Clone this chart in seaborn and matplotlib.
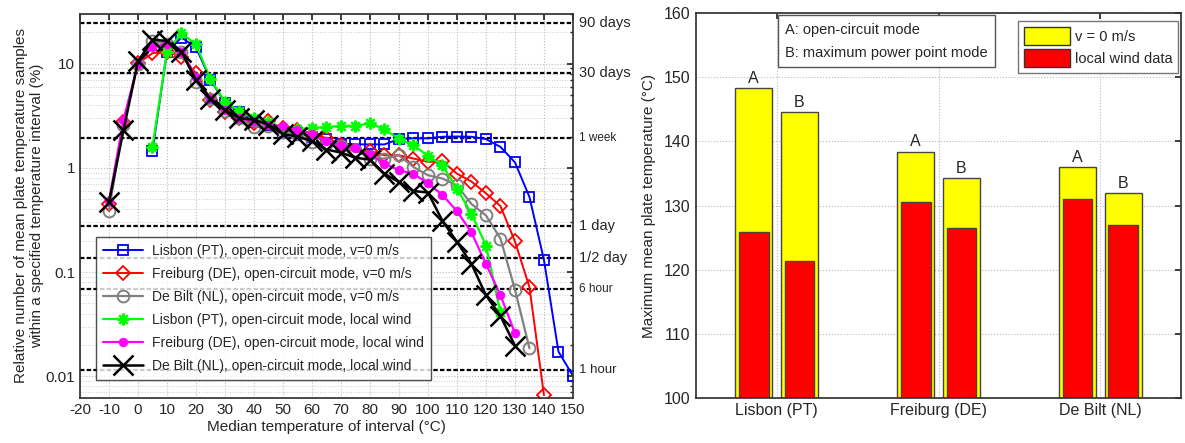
import numpy as np
import pandas as pd
import matplotlib
matplotlib.use('Agg')
import matplotlib.pyplot as plt
import matplotlib.ticker as mticker
from matplotlib.patches import Patch
from matplotlib.transforms import blended_transform_factory
import seaborn as sns

### data: left chart (relative number of samples per 5 degC interval, %) ###
temp_lisbon = [5, 10, 15, 20, 25, 30, 35, 40, 45, 50, 55, 60, 65, 70, 75, 80, 85, 90, 95,
               100, 105, 110, 115, 120, 125, 130, 135, 140, 145, 150]
lisbon_v0 = [1.46, 13.0, 17.8, 14.3, 7.0, 4.2, 3.45, 2.77, 2.6, 2.2, 2.14, 1.99, 1.89, 1.71,
             1.68, 1.68, 1.68, 1.89, 1.92, 1.92, 1.99, 2.0, 1.99, 1.89, 1.59, 1.13, 0.526,
             0.131, 0.0173, 0.0101]

temp_freiburg = [-10, -5, 0, 5, 10, 15, 20, 25, 30, 35, 40, 45, 50, 55, 60, 65, 70, 75, 80,
                 85, 90, 95, 100, 105, 110, 115, 120, 125, 130, 135, 140]
freiburg_v0 = [0.45, 2.73, 10.1, 12.6, 13.0, 11.7, 8.1, 4.5, 3.45, 2.98, 2.67, 2.8, 2.39, 2.3,
               2.06, 1.94, 1.65, 1.42, 1.45, 1.32, 1.32, 1.23, 1.14, 1.16, 0.88, 0.74, 0.57,
               0.43, 0.197, 0.0718, 0.0066]

temp_debilt = [-10, -5, 0, 5, 10, 15, 20, 25, 30, 35, 40, 45, 50, 55, 60, 65, 70, 75, 80,
               85, 90, 95, 100, 105, 110, 115, 120, 125, 130, 135]
debilt_v0 = [0.39, 2.6, 10.0, 16.5, 15.5, 13.0, 6.7, 4.6, 3.5, 3.0, 2.48, 2.5, 2.2, 2.1, 1.78,
             1.71, 1.62, 1.5, 1.23, 1.23, 1.32, 1.02, 0.85, 0.79, 0.68, 0.45, 0.35, 0.21,
             0.068, 0.0186]

temp_lisbon_w = [5, 10, 15, 20, 25, 30, 35, 40, 45, 50, 55, 60, 65, 70, 75, 80, 85, 90, 95,
                 100, 105, 110, 115, 120, 125]
lisbon_wind = [1.59, 13.0, 19.6, 15.3, 7.1, 4.3, 3.5, 3.0, 2.77, 2.4, 2.35, 2.42, 2.46, 2.53,
               2.53, 2.67, 2.35, 1.89, 1.65, 1.3, 1.06, 0.63, 0.364, 0.18, 0.041]

temp_freiburg_w = [-10, -5, 0, 5, 10, 15, 20, 25, 30, 35, 40, 45, 50, 55, 60, 65, 70, 75, 80,
                   85, 90, 95, 100, 105, 110, 115, 120, 125, 130]
freiburg_wind = [0.48, 2.9, 10.0, 14.5, 15.5, 13.0, 7.5, 4.6, 3.6, 3.0, 2.8, 2.6, 2.5, 2.3,
                 2.1, 1.8, 1.65, 1.55, 1.35, 1.1, 0.95, 0.88, 0.71, 0.55, 0.385, 0.24, 0.12,
                 0.06, 0.026]

temp_debilt_w = [-10, -5, 0, 5, 10, 15, 20, 25, 30, 35, 40, 45, 50, 55, 60, 65, 70, 75, 80,
                 85, 90, 95, 100, 105, 110, 115, 120, 125, 130]
debilt_wind = [0.47, 2.3, 10.5, 17.0, 16.5, 13.0, 7.0, 4.6, 3.6, 3.0, 2.9, 2.6, 2.1, 2.0, 1.8,
               1.5, 1.4, 1.25, 1.2, 0.88, 0.73, 0.6, 0.58, 0.31, 0.195, 0.12, 0.06, 0.038,
               0.0197]

# reference durations, as share of one year (%)
duration_labels = ['90 days', '30 days', '1 week', '1 day', '1/2 day', '6 hour', '1 hour']
duration_hours = [90 * 24, 30 * 24, 7 * 24, 24, 12, 6, 1]
duration_fontsize = [10.5, 10.5, 8.5, 10.5, 10.5, 8.5, 9.5]

### data: right chart (maximum mean plate temperature, degC) ###
sites = ['Lisbon (PT)', 'Freiburg (DE)', 'De Bilt (NL)']
modes = ['A', 'B']
tmax_v0 = {'A': [148.3, 138.4, 136.0], 'B': [144.5, 134.3, 131.9]}
tmax_wind = {'A': [125.8, 130.5, 131.0], 'B': [121.3, 126.5, 127.0]}

sns.set_theme(style='white')
plt.rcParams['font.family'] = ['Liberation Sans', 'DejaVu Sans']
plt.rcParams['xtick.direction'] = 'in'
plt.rcParams['ytick.direction'] = 'in'
plt.rcParams['axes.unicode_minus'] = False

fig = plt.figure(figsize=(11.85, 4.43), dpi=100)
ax1 = fig.add_axes([0.0675, 0.1016, 0.416, 0.867])
ax2 = fig.add_axes([0.587, 0.1016, 0.41, 0.869])

### left chart ###
series = [
    (temp_lisbon, lisbon_v0, 'Lisbon (PT), open-circuit mode, v=0 m/s',
     dict(color='#0000ff', marker='s', markersize=7, markerfacecolor='none', lw=1.4, mew=1.3)),
    (temp_freiburg, freiburg_v0, 'Freiburg (DE), open-circuit mode, v=0 m/s',
     dict(color='#ff0000', marker='D', markersize=7, markerfacecolor='none', lw=1.4, mew=1.3)),
    (temp_debilt, debilt_v0, 'De Bilt (NL), open-circuit mode, v=0 m/s',
     dict(color='#808080', marker='o', markersize=8.5, markerfacecolor='none', lw=1.6, mew=1.4)),
    (temp_lisbon_w, lisbon_wind, 'Lisbon (PT), open-circuit mode, local wind',
     dict(color='#00ff00', marker=(8, 2, 0), markersize=8.5, lw=1.6, mew=1.6)),
    (temp_freiburg_w, freiburg_wind, 'Freiburg (DE), open-circuit mode, local wind',
     dict(color='#ff00ff', marker='o', markersize=6, lw=1.6)),
    (temp_debilt_w, debilt_wind, 'De Bilt (NL), open-circuit mode, local wind',
     dict(color='black', marker='x', markersize=14, lw=1.8, mew=1.8)),
]
for x, y, lab, kw in series:
    sns.lineplot(x=x, y=y, ax=ax1, label=lab, markeredgecolor=kw['color'], **kw)

ax1.set_yscale('log')
ax1.set_xlim(-20, 150)
ax1.set_ylim(0.0062, 30)
ax1.set_xticks(np.arange(-20, 151, 10))
ax1.yaxis.set_major_formatter(mticker.FuncFormatter(lambda v, p: f'{v:g}'))
ax1.grid(True, which='major', ls=':', color='#bbbbbb', lw=0.8)
ax1.grid(True, which='minor', axis='y', ls=':', color='#cccccc', lw=0.7)
ax1.tick_params(which='both', top=True, right=True, labelsize=11, length=4)
ax1.tick_params(which='minor', length=2)
for s in ax1.spines.values():
    s.set_color('#333333')

trans = blended_transform_factory(ax1.transAxes, ax1.transData)
for lab, h, fs in zip(duration_labels, duration_hours, duration_fontsize):
    share = 100.0 * h / (365 * 24)
    ax1.axhline(share, color='black', ls=(0, (2.0, 1.0)), lw=1.6, zorder=1)
    ax1.text(1.012, share, lab, transform=trans, va='center', ha='left', fontsize=fs,
             clip_on=False)

ax1.set_xlabel('Median temperature of interval (°C)', fontsize=11, labelpad=2)
ax1.set_ylabel('Relative number of mean plate temperature samples\n'
               'within a specified temperature interval (%)', fontsize=11, labelpad=1)
leg1 = ax1.legend(loc='lower left', bbox_to_anchor=(0.033, 0.047), fontsize=10,
                  frameon=True, fancybox=False, edgecolor='#222222', handlelength=2.9,
                  labelspacing=0.65, borderpad=0.5, borderaxespad=0, handletextpad=0.6)
leg1.get_frame().set_linewidth(1.0)

### right chart ###
df_v0 = pd.DataFrame([(s, m, tmax_v0[m][i]) for m in modes for i, s in enumerate(sites)],
                     columns=['site', 'mode', 'tmax'])
df_wind = pd.DataFrame([(s, m, tmax_wind[m][i]) for m in modes for i, s in enumerate(sites)],
                       columns=['site', 'mode', 'tmax'])

sns.barplot(data=df_v0, x='site', y='tmax', hue='mode', order=sites, hue_order=modes,
            palette=['#ffff00', '#ffff00'], width=0.565, gap=0.2, edgecolor='#444444',
            linewidth=1.0, saturation=1, legend=False, ax=ax2)
n_yellow = len(ax2.patches)
sns.barplot(data=df_wind, x='site', y='tmax', hue='mode', order=sites, hue_order=modes,
            palette=['#ff0000', '#ff0000'], width=0.565, gap=0.35, edgecolor='#444444',
            linewidth=1.0, saturation=1, legend=False, ax=ax2)

# bars start from the axis floor
for p in ax2.patches:
    top = p.get_y() + p.get_height()
    p.set_y(100)
    p.set_height(top - 100)

for idx, p in enumerate(ax2.patches[:n_yellow]):
    lab = modes[idx // len(sites)]
    ax2.text(p.get_x() + p.get_width() / 2, p.get_y() + p.get_height() + 0.35, lab,
             ha='center', va='bottom', fontsize=11.5)

ax2.set_ylim(100, 160)
ax2.set_xlim(-0.5, 2.5)
ax2.set_yticks(np.arange(100, 161, 10))
ax2.set_xlabel('')
ax2.set_ylabel('Maximum mean plate temperature (°C)', fontsize=11, labelpad=6)
ax2.grid(True, ls=':', color='#bbbbbb', lw=0.8)
ax2.set_axisbelow(True)
ax2.tick_params(top=True, right=True, labelsize=11.5, length=4)
for s in ax2.spines.values():
    s.set_color('#333333')

ax2.text(0.185, 0.975, 'A: open-circuit mode\nB: maximum power point mode',
         transform=ax2.transAxes, ha='left', va='top', fontsize=10.5, linespacing=1.85,
         bbox=dict(boxstyle='square,pad=0.5', fc='white', ec='#555555', lw=1.0))
handles = [Patch(facecolor='#ffff00', edgecolor='#333333', label='v = 0 m/s'),
           Patch(facecolor='#ff0000', edgecolor='#333333', label='local wind data')]
leg2 = ax2.legend(handles=handles, loc='upper right', bbox_to_anchor=(0.993, 0.978),
                  fontsize=10.5, frameon=True, fancybox=False, edgecolor='#555555',
                  handlelength=3.2, handleheight=1.5, labelspacing=0.3, borderpad=0.4,
                  borderaxespad=0, handletextpad=0.3)

fig.savefig('out.png', dpi=100)
